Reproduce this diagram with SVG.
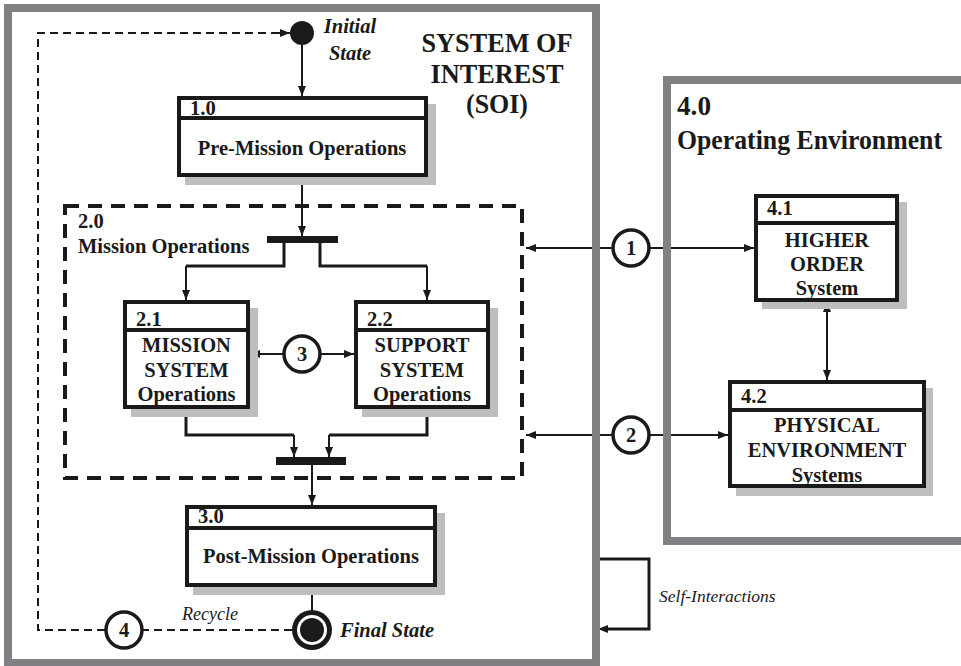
<svg xmlns="http://www.w3.org/2000/svg" width="961" height="666" viewBox="0 0 961 666">
  <defs>
    <marker id="arr" viewBox="0 0 10 8" refX="10" refY="4" markerWidth="10" markerHeight="8" markerUnits="userSpaceOnUse" orient="auto-start-reverse">
      <path d="M0,0 L10,4 L0,8 z" fill="#1a1a1a"/>
    </marker>
    <style>
      .frame { fill: none; stroke: #808184; stroke-width: 8; }
      .box { fill: #ffffff; stroke: #1a1a1a; stroke-width: 4; }
      .shadow { fill: #bdbec0; }
      .div { stroke: #1a1a1a; stroke-width: 4; }
      .t { font-family: "Liberation Serif", "Times New Roman", serif; font-weight: bold; font-size: 20.5px; fill: #1a1a1a; }
      .mid { text-anchor: middle; }
      .title { font-family: "Liberation Serif", "Times New Roman", serif; font-weight: bold; font-size: 28px; fill: #1a1a1a; }
      .it { font-family: "Liberation Serif", "Times New Roman", serif; font-style: italic; fill: #1a1a1a; }
      .ln { fill: none; stroke: #1a1a1a; stroke-width: 2; }
      .thk { fill: none; stroke: #1a1a1a; stroke-width: 3; }
      .dash { fill: none; stroke: #1a1a1a; stroke-width: 2; stroke-dasharray: 8 5; }
      .bubble { fill: #ffffff; stroke: #1a1a1a; stroke-width: 3.5; }
      .bar { fill: #1a1a1a; }
    </style>
  </defs>

  <rect width="961" height="666" fill="#ffffff"/>

  <!-- Connectors -->
  <g id="connectors">
    <!-- initial state to 1.0 -->
    <line class="ln" x1="302" y1="45" x2="302" y2="96" marker-end="url(#arr)"/>
    <!-- 1.0 to fork bar -->
    <line class="ln" x1="302" y1="177" x2="302" y2="236" marker-end="url(#arr)"/>
    <!-- fork bar to 2.1 and 2.2 -->
    <path class="thk" d="M284,243 V266 H186"/>
    <line class="ln" x1="186" y1="266" x2="186" y2="300" marker-end="url(#arr)"/>
    <path class="thk" d="M320,243 V266 H427"/>
    <line class="ln" x1="427" y1="266" x2="427" y2="300" marker-end="url(#arr)"/>
    <!-- 2.1 / 2.2 to join bar -->
    <path class="thk" d="M186,409 V435 H294"/>
    <line class="ln" x1="294" y1="435" x2="294" y2="457" marker-end="url(#arr)"/>
    <path class="thk" d="M427,409 V435 H329"/>
    <line class="ln" x1="329" y1="435" x2="329" y2="457" marker-end="url(#arr)"/>
    <!-- join bar to 3.0 -->
    <line class="ln" x1="312" y1="465" x2="312" y2="505" marker-end="url(#arr)"/>
    <!-- 3.0 to final state -->
    <line class="ln" x1="312" y1="587" x2="312" y2="610"/>
    <!-- interaction 3 -->
    <line class="ln" x1="284" y1="354" x2="250" y2="354" marker-end="url(#arr)"/>
    <line class="ln" x1="320" y1="354" x2="354" y2="354" marker-end="url(#arr)"/>
    <!-- interaction 1 -->
    <line class="ln" x1="613" y1="248" x2="526" y2="248" marker-end="url(#arr)"/>
    <line class="ln" x1="649" y1="248" x2="754" y2="248" marker-end="url(#arr)"/>
    <!-- interaction 2 -->
    <line class="ln" x1="613" y1="435" x2="526" y2="435" marker-end="url(#arr)"/>
    <line class="ln" x1="649" y1="435" x2="728" y2="435" marker-end="url(#arr)"/>
    <!-- 4.1 <-> 4.2 -->
    <line class="ln" x1="827" y1="302" x2="827" y2="380" marker-start="url(#arr)" marker-end="url(#arr)"/>
    <!-- recycle loop -->
    <line class="dash" x1="292" y1="630" x2="143" y2="630"/>
    <path class="dash" d="M105,630 H38 V33 H280"/>
    <line class="ln" x1="278" y1="33" x2="290" y2="33" marker-end="url(#arr)"/>
    <!-- self-interactions -->
    <path class="thk" d="M596,559 H649 V629 H606"/>
    <line class="ln" x1="608" y1="629" x2="598" y2="629" marker-end="url(#arr)"/>
  </g>

  <!-- System of interest frame -->
  <g id="soi">
    <rect class="frame" x="8" y="8" width="588" height="655"/>
    <text class="title mid" x="497" y="52" textLength="151" lengthAdjust="spacingAndGlyphs">SYSTEM OF</text>
    <text class="title mid" x="497" y="83" textLength="133" lengthAdjust="spacingAndGlyphs">INTEREST</text>
    <text class="title mid" x="497" y="113" textLength="62" lengthAdjust="spacingAndGlyphs">(SOI)</text>
  </g>

  <!-- Operating environment frame -->
  <g id="env">
    <rect class="frame" x="667" y="80" width="320" height="461"/>
    <text class="title" x="677" y="115" textLength="34" lengthAdjust="spacingAndGlyphs">4.0</text>
    <text class="title" x="677" y="149" textLength="265" lengthAdjust="spacingAndGlyphs">Operating Environment</text>
  </g>

  <!-- Initial state -->
  <g id="initial">
    <circle cx="302" cy="33" r="12" fill="#1a1a1a"/>
    <text class="it mid" x="350" y="33" font-weight="bold" font-size="20.5">Initial</text>
    <text class="it mid" x="350" y="60" font-weight="bold" font-size="20.5">State</text>
  </g>

  <!-- 1.0 -->
  <g id="n1">
    <rect class="shadow" x="185" y="104" width="251" height="81"/>
    <rect class="box" x="179" y="98" width="247" height="77"/>
    <line class="div" x1="179" y1="118" x2="426" y2="118"/>
    <text class="t" x="190" y="115">1.0</text>
    <text class="t mid" x="302" y="155">Pre-Mission Operations</text>
  </g>

  <!-- 2.0 -->
  <g id="n2">
    <rect x="65" y="206" width="457" height="272" fill="none" stroke="#1a1a1a" stroke-width="4" stroke-dasharray="14 9"/>
    <text class="t" x="78" y="228">2.0</text>
    <text class="t" x="78" y="253">Mission Operations</text>
    <rect class="bar" x="267" y="236" width="71" height="7"/>
    <rect class="bar" x="276" y="457" width="70" height="8"/>
  </g>

  <!-- 2.1 -->
  <g id="n21">
    <rect class="shadow" x="131" y="308" width="127" height="109"/>
    <rect class="box" x="125" y="302" width="123" height="105"/>
    <line class="div" x1="125" y1="330" x2="248" y2="330"/>
    <text class="t" x="136" y="326">2.1</text>
    <text class="t mid" x="186.5" y="352">MISSION</text>
    <text class="t mid" x="186.5" y="377">SYSTEM</text>
    <text class="t mid" x="186.5" y="401">Operations</text>
  </g>

  <!-- 2.2 -->
  <g id="n22">
    <rect class="shadow" x="362" y="308" width="136" height="109"/>
    <rect class="box" x="356" y="302" width="132" height="105"/>
    <line class="div" x1="356" y1="330" x2="488" y2="330"/>
    <text class="t" x="367" y="326">2.2</text>
    <text class="t mid" x="422" y="352">SUPPORT</text>
    <text class="t mid" x="422" y="377">SYSTEM</text>
    <text class="t mid" x="422" y="401">Operations</text>
  </g>

  <!-- 3.0 -->
  <g id="n3">
    <rect class="shadow" x="193" y="513" width="252" height="82"/>
    <rect class="box" x="187" y="507" width="248" height="78"/>
    <line class="div" x1="187" y1="528" x2="435" y2="528"/>
    <text class="t" x="198" y="523">3.0</text>
    <text class="t mid" x="311" y="563">Post-Mission Operations</text>
  </g>

  <!-- 4.1 -->
  <g id="n41">
    <rect class="shadow" x="762" y="202" width="145" height="107"/>
    <rect class="box" x="756" y="196" width="141" height="104"/>
    <line class="div" x1="756" y1="223" x2="897" y2="223"/>
    <text class="t" x="767" y="215">4.1</text>
    <text class="t mid" x="827" y="247">HIGHER</text>
    <text class="t mid" x="827" y="271">ORDER</text>
    <text class="t mid" x="827" y="295">System</text>
  </g>

  <!-- 4.2 -->
  <g id="n42">
    <rect class="shadow" x="736" y="388" width="197" height="108"/>
    <rect class="box" x="730" y="382" width="194" height="104"/>
    <line class="div" x1="730" y1="410" x2="924" y2="410"/>
    <text class="t" x="741" y="403">4.2</text>
    <text class="t mid" x="827" y="432">PHYSICAL</text>
    <text class="t mid" x="827" y="457">ENVIRONMENT</text>
    <text class="t mid" x="827" y="482">Systems</text>
  </g>

  <!-- interaction bubbles -->
  <g id="i1">
    <circle class="bubble" cx="631" cy="248" r="18"/>
    <text class="t mid" x="631" y="255">1</text>
  </g>
  <g id="i2">
    <circle class="bubble" cx="631" cy="435" r="18"/>
    <text class="t mid" x="631" y="442">2</text>
  </g>
  <g id="i3">
    <circle class="bubble" cx="302" cy="354" r="18"/>
    <text class="t mid" x="302" y="361">3</text>
  </g>
  <g id="i4">
    <circle class="bubble" cx="124" cy="630" r="18"/>
    <text class="t mid" x="124" y="637">4</text>
    <text class="it" x="182" y="620" font-size="18">Recycle</text>
  </g>

  <!-- Final state -->
  <g id="final">
    <circle cx="312" cy="630" r="20" fill="#1a1a1a"/>
    <circle cx="312" cy="630" r="15" fill="#ffffff"/>
    <circle cx="312" cy="630" r="12" fill="#1a1a1a"/>
    <text class="it" x="340" y="637" font-weight="bold" font-size="20.5">Final State</text>
  </g>

  <!-- Self-interactions label -->
  <g id="self">
    <text class="it" x="659" y="602" font-size="17.5">Self-Interactions</text>
  </g>
</svg>
